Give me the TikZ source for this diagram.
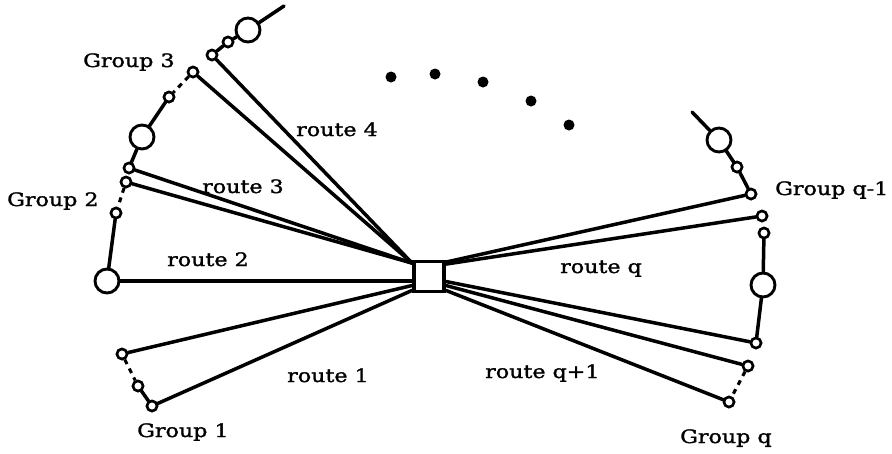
\documentclass[tikz,border=0pt]{standalone}
\usepackage{fontspec}
\setmainfont{DejaVu Serif}[FakeStretch=1.2,FakeBold=1.5]
\usetikzlibrary{calc}

\begin{document}
\begin{tikzpicture}[x=1pt,y=-1pt,
    wire/.style={line width=3.5pt, line cap=round},
    dashwire/.style={line width=3.1pt, dash pattern=on 5pt off 5pt},
    port/.style={circle, draw, line width=2.5pt, fill=white, minimum size=10pt, inner sep=0pt},
    site/.style={circle, draw, line width=2.9pt, fill=white, minimum size=24pt, inner sep=0pt},
    hubbox/.style={draw, line width=3.8pt, fill=white, minimum width=30pt, minimum height=30pt, inner sep=0pt},
    lbl/.style={font=\fontsize{18.5pt}{20pt}\selectfont, inner sep=0pt, anchor=base west},
    dot/.style={circle, fill=black, minimum size=11pt, inner sep=0pt}]

\useasboundingbox (0,0) rectangle (892,453);

% central switch
\node[hubbox] (hub) at (429,276.5) {};
\coordinate (wa) at ([yshift=-3.5pt]hub.north west);
\coordinate (wb) at ([yshift=-4.5pt]hub.west);
\coordinate (wc) at ([yshift=-9pt]hub.west);
\coordinate (wd) at ([yshift=3pt]hub.south west);
\coordinate (ea) at ([yshift=-2.5pt]hub.north east);
\coordinate (eb) at ([yshift=-4.5pt]hub.north east);
\coordinate (ec) at ([yshift=-5pt]hub.east);
\coordinate (ed) at ([yshift=-9pt]hub.east);
\coordinate (ee) at ([yshift=3pt]hub.south east);

% left-hand ring
\coordinate (ltop) at (284,6);
\node[site] (b3) at (248,30) {};
\node[port] (p3a) at (228,42) {};
\node[port] (p3b) at (212,55) {};
\node[port] (p3c) at (193,72) {};
\node[port] (p3d) at (169,97) {};
\node[site] (b2) at (142,137) {};
\node[port] (p2a) at (129,168) {};
\node[port] (p2b) at (126,182) {};
\node[port] (p2c) at (116,213) {};
\node[site] (b1) at (107,281) {};
\node[port] (p1a) at (122,354) {};
\node[port] (p1b) at (138,386) {};
\node[port] (p1c) at (152,406) {};

% right-hand ring
\coordinate (rtop) at (692,112);
\node[site] (bq1) at (719,140) {};
\node[port] (q1a) at (737,167) {};
\node[port] (q1b) at (751,194) {};
\node[port] (q1c) at (762,216) {};
\node[port] (q1d) at (764,233) {};
\node[site] (bq) at (763,285) {};
\node[port] (qa) at (756,343) {};
\node[port] (qb) at (748,366) {};
\node[port] (qc) at (729,402) {};

% ring segments
\draw[wire] (ltop) -- (b3);
\draw[wire] (b3) -- (p3a);
\draw[wire] (p3a) -- (p3b);
\draw[dashwire] (p3c) -- (p3d);
\draw[wire] (p3d) -- (b2);
\draw[wire] (b2) -- (p2a);
\draw[dashwire] (p2b) -- (p2c);
\draw[wire] (p2c) -- (b1);
\draw[dashwire] (p1a) -- (p1b);
\draw[wire] (p1b) -- (p1c);

\draw[wire] (rtop) -- (bq1);
\draw[wire] (bq1) -- (q1a);
\draw[wire] (q1a) -- (q1b);
\draw[wire] (q1d) -- (bq);
\draw[wire] (bq) -- (qa);
\draw[dashwire] (qb) -- (qc);

% routes to the switch
\draw[wire] (p3b) -- (wa);
\draw[wire] (p3c) -- (wa);
\draw[wire] (p2a) -- (wa);
\draw[wire] (p2b) -- (wa);
\draw[wire] (b1) -- (wb);
\draw[wire] (p1a) -- (wc);
\draw[wire] (p1c) -- (wd);
\draw[wire] (q1b) -- (ea);
\draw[wire] (q1c) -- (eb);
\draw[wire] (qa) -- (ec);
\draw[wire] (qb) -- (ed);
\draw[wire] (qc) -- (ee);

% redraw ends on top of the wires
\node[hubbox] at (hub) {};
\foreach \n in {p3a,p3b,p3c,p3d,p2a,p2b,p2c,p1a,p1b,p1c,q1a,q1b,q1c,q1d,qa,qb,qc}
  \node[port] at (\n) {};

% omitted groups
\node[dot] (d1) at (391,77) {};
\node[dot] (d2) at (435,74) {};
\node[dot] (d3) at (483,82) {};
\node[dot] (d4) at (531,101) {};
\node[dot] (d5) at (569,125) {};

% labels
\node[lbl] (g3) at (83,67) {Group 3};
\node[lbl] (g2) at (7,206) {Group 2};
\node[lbl] (g1) at (137,437) {Group 1};
\node[lbl] (gq) at (680,443) {Group q};
\node[lbl] (gq1) at (775,195) {Group q-1};
\node[lbl] (r4) at (296,136) {route 4};
\node[lbl] (r3) at (202,193) {route 3};
\node[lbl] (r2) at (167,266) {route 2};
\node[lbl] (r1) at (287,382) {route 1};
\node[lbl] (rq) at (560,273) {route q};
\node[lbl] (rq1) at (485,378) {route q+1};
\end{tikzpicture}
\end{document}
